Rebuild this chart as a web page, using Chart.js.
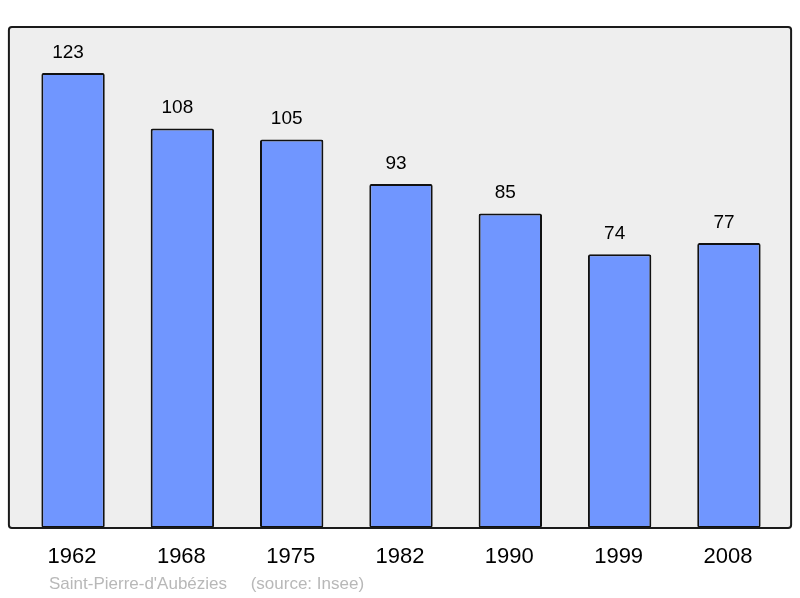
<!DOCTYPE html>
<html>
<head>
<meta charset="utf-8">
<script src="https://cdn.jsdelivr.net/npm/chart.js@4"></script>
<style>
  html,body{margin:0;padding:0;background:#fff;}
  #wrap{width:800px;height:598px;position:relative;}
</style>
</head>
<body>
<div id="wrap"><canvas id="popChart" width="800" height="598"></canvas></div>
<script>
const years = ['1962','1968','1975','1982','1990','1999','2008'];
const population = [123,108,105,93,85,74,77];
const yMax = 135.4;
const footer = "Saint-Pierre-d'Aubézies     (source: Insee)";

// frame + labels drawn around the chart area
const framePlugin = {
  id: 'frame',
  beforeDatasetsDraw(chart) {
    const {ctx, chartArea: a} = chart;
    ctx.save();
    ctx.fillStyle = '#eeeeee';
    roundRect(ctx, a.left - 9.5, a.top, a.right - a.left + 17, a.bottom - a.top, 3);
    ctx.fill();
    ctx.restore();
  },
  afterDatasetsDraw(chart) {
    const {ctx, chartArea: a, scales} = chart;
    ctx.save();
    ctx.strokeStyle = '#1a1a1a';
    ctx.lineWidth = 2;
    roundRect(ctx, a.left - 9.5, a.top, a.right - a.left + 17, a.bottom - a.top, 3);
    ctx.stroke();

    ctx.fillStyle = '#000';
    ctx.textAlign = 'center';
    ctx.textBaseline = 'middle';
    const meta = chart.getDatasetMeta(0);
    ctx.font = '19px "Liberation Sans", Arial, sans-serif';
    meta.data.forEach((bar, i) => {
      ctx.fillText(population[i], bar.x - 5, bar.y - 20.5);
    });
    ctx.font = '22px "Liberation Sans", Arial, sans-serif';
    years.forEach((y, i) => {
      ctx.fillText(y, scales.x.getPixelForValue(i) - 1, 557);
    });
    ctx.textAlign = 'left';
    ctx.fillStyle = '#b8b8b8';
    ctx.font = '17px "Liberation Sans", Arial, sans-serif';
    ctx.fillText(footer, 49, 584);
    ctx.restore();
  }
};

function roundRect(ctx, x, y, w, h, r) {
  ctx.beginPath();
  ctx.moveTo(x + r, y);
  ctx.lineTo(x + w - r, y);
  ctx.arcTo(x + w, y, x + w, y + r, r);
  ctx.lineTo(x + w, y + h - r);
  ctx.arcTo(x + w, y + h, x + w - r, y + h, r);
  ctx.lineTo(x + r, y + h);
  ctx.arcTo(x, y + h, x, y + h - r, r);
  ctx.lineTo(x, y + r);
  ctx.arcTo(x, y, x + r, y, r);
  ctx.closePath();
}

new Chart(document.getElementById('popChart'), {
  type: 'bar',
  data: {
    labels: years,
    datasets: [{
      data: population,
      backgroundColor: '#7096ff',
      borderColor: '#111111',
      borderWidth: 2,
      borderRadius: 2,
      borderSkipped: false,
      barPercentage: 0.58,
      categoryPercentage: 1
    }]
  },
  options: {
    responsive: false,
    animation: false,
    layout: { padding: { left: 18.4, right: 16.4, top: 27, bottom: 70 } },
    plugins: { legend: { display: false }, tooltip: { enabled: false } },
    scales: {
      x: { display: false },
      y: { display: false, min: 0, max: yMax }
    }
  },
  plugins: [framePlugin]
});
</script>
</body>
</html>
